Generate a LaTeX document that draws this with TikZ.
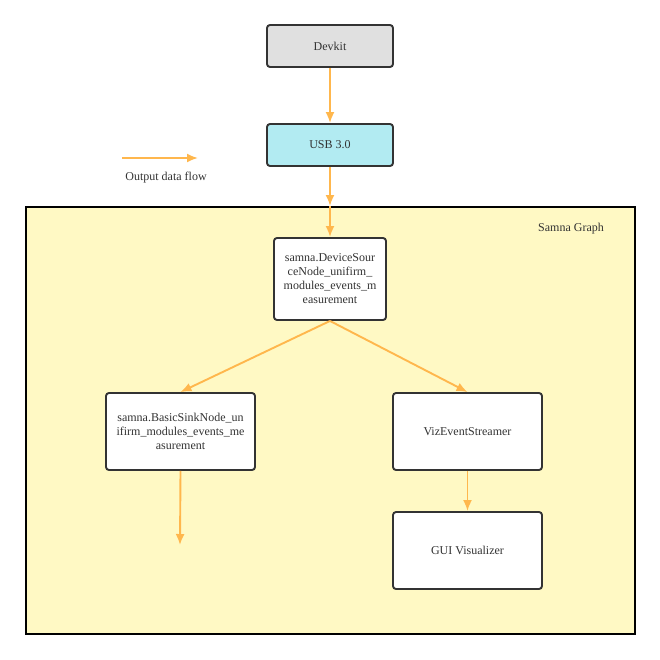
\documentclass[tikz,border=0pt]{standalone}
\usepackage{fontspec}
\setmainfont{Liberation Serif}
\usetikzlibrary{arrows.meta}
\definecolor{flow}{HTML}{FFB74D}
\definecolor{devk}{HTML}{E0E0E0}
\definecolor{usbc}{HTML}{B2EBF2}
\definecolor{graphc}{HTML}{FFF9C4}
\definecolor{txt}{HTML}{333333}
\begin{document}
\begin{tikzpicture}[x=1pt,y=-1pt,
  box/.style={draw=txt,line width=1.9pt,rounded corners=3pt,fill=white,align=center,inner sep=2pt,text=txt,font=\fontsize{12}{14}\selectfont},
  flowarrow/.style={draw=flow,line width=1.9pt,-{Latex[length=11pt,width=9pt]}},
  lbl/.style={text=txt,font=\fontsize{12}{14}\selectfont}]
\useasboundingbox (0,0) rectangle (660,659);
\node[draw=black,line width=2pt,fill=graphc,minimum width=609pt,minimum height=427pt,anchor=north west,inner sep=0pt] (graph) at (25,206) {};
\node[lbl] (glabel) at (571,229) {Samna Graph};
\node[box,fill=devk,minimum width=126pt,minimum height=42pt] (devkit) at (330,46) {Devkit};
\node[box,fill=usbc,minimum width=126pt,minimum height=42pt] (usb) at (330,145) {USB 3.0};
\node[box,minimum width=112pt,minimum height=82pt] (src) at (330,279) {samna.DeviceSour\\ceNode\_unifirm\_\\modules\_events\_m\\easurement};
\node[box,minimum width=149pt,minimum height=77pt] (sink) at (180.5,431.5) {samna.BasicSinkNode\_un\\ifirm\_modules\_events\_me\\asurement};
\node[box,minimum width=149pt,minimum height=77pt] (viz) at (467.5,431.5) {VizEventStreamer};
\node[box,minimum width=149pt,minimum height=77pt] (gui) at (467.5,550.5) {GUI Visualizer};
\coordinate (gtop) at (330,206);
\coordinate (sinkend) at (180,545);
\coordinate (lega) at (122,158);
\coordinate (legb) at (198,158);
\node[lbl] (legtext) at (166,178) {Output data flow};
\draw[flowarrow] (devkit) -- (usb);
\draw[flowarrow] (usb) -- (gtop);
\draw[flowarrow] (gtop) -- (src);
\draw[flowarrow] (src.south) -- (sink.north);
\draw[flowarrow] (src.south) -- (viz.north);
\draw[flowarrow] (viz) -- (gui);
\draw[flowarrow] (sink.south) -- (sinkend);
\draw[flowarrow] (lega) -- (legb);
\end{tikzpicture}
\end{document}
